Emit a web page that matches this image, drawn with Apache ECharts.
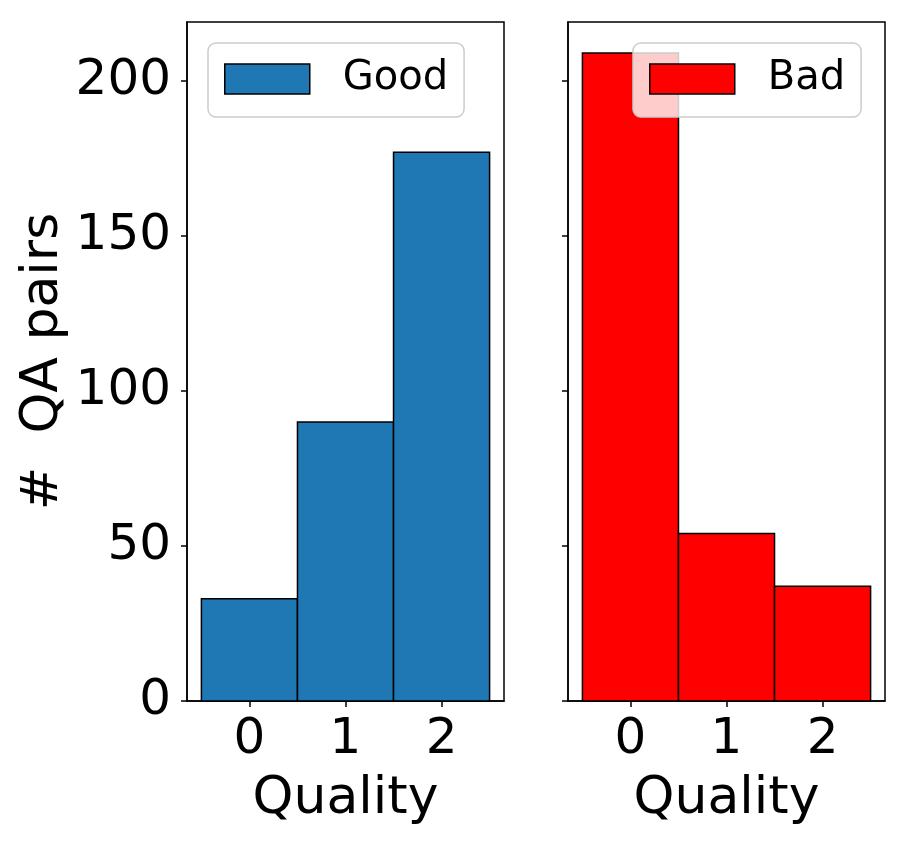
<!DOCTYPE html>
<html>
<head>
<meta charset="utf-8">
<script src="https://cdn.jsdelivr.net/npm/echarts@6/dist/echarts.min.js"></script>
<style>
  html, body {margin: 0; padding: 0; background: #fff;}
  #main {width: 908px; height: 841px;}
</style>
</head>
<body>
<div id="main"></div>
<script>
const qualities = [0, 1, 2];
const goodCounts = [33, 90, 177];
const badCounts = [209, 54, 37];
const yTicks = [0, 50, 100, 150, 200];

const font = 'DejaVu Sans';
const chart = echarts.init(document.getElementById('main'));

function histItem(params, api) {
  const x = api.value(0);
  const y = api.value(1);
  const p0 = api.coord([x - 0.5, y]);
  const p1 = api.coord([x + 0.5, 0]);
  return {
    type: 'rect',
    shape: {x: p0[0], y: p0[1], width: p1[0] - p0[0], height: p1[1] - p0[1]},
    style: api.style()
  };
}

function xAxis(gridIndex) {
  return {
    gridIndex, type: 'value', min: -0.65, max: 2.65,
    name: 'Quality', nameLocation: 'middle', nameGap: 72,
    nameTextStyle: {fontFamily: font, fontSize: 52, color: '#000'},
    axisLine: {show: true, onZero: false, lineStyle: {color: '#000', width: 1.5}},
    axisTick: {show: true, length: 6, lineStyle: {color: '#000', width: 1.5}, customValues: qualities},
    axisLabel: {fontFamily: font, fontSize: 50, color: '#000', margin: 14, customValues: qualities},
    splitLine: {show: false}
  };
}

function yAxis(gridIndex, showLabels) {
  return {
    gridIndex, type: 'value', min: 0, max: 219,
    name: showLabels ? '#  QA pairs' : '', nameLocation: 'middle', nameGap: 118,
    nameTextStyle: {fontFamily: font, fontSize: 52, color: '#000'},
    axisLine: {show: true, onZero: false, lineStyle: {color: '#000', width: 1.5}},
    axisTick: {show: true, length: 6, lineStyle: {color: '#000', width: 1.5}, customValues: yTicks},
    axisLabel: {show: showLabels, fontFamily: font, fontSize: 50, color: '#000', margin: 16, customValues: yTicks},
    splitLine: {show: false}
  };
}

function legend(name, color, left) {
  return {
    data: [{name, icon: 'rect', itemStyle: {color, borderColor: '#000', borderWidth: 1.5}}],
    left, top: 43,
    itemWidth: 85, itemHeight: 30,
    padding: [16, 16, 18, 16],
    backgroundColor: 'rgba(255,255,255,0.8)',
    borderColor: '#cccccc', borderWidth: 1.5, borderRadius: 8,
    selectedMode: false,
    textStyle: {fontFamily: font, fontSize: 40, color: '#000', padding: [0, 0, 0, 28]}
  };
}

chart.setOption({
  animation: false,
  backgroundColor: '#fff',
  grid: [
    {left: 187, top: 22, width: 317, height: 679, show: true, borderColor: '#000', borderWidth: 1.5},
    {left: 568, top: 22, width: 317, height: 679, show: true, borderColor: '#000', borderWidth: 1.5}
  ],
  xAxis: [xAxis(0), xAxis(1)],
  yAxis: [yAxis(0, true), yAxis(1, false)],
  legend: [legend('Good', '#1f77b4', 208), legend('Bad', '#ff0000', 633)],
  series: [
    {
      name: 'Good', type: 'custom', xAxisIndex: 0, yAxisIndex: 0,
      renderItem: histItem,
      itemStyle: {color: '#1f77b4', borderColor: '#000', borderWidth: 1.5},
      data: qualities.map((q, i) => [q, goodCounts[i]])
    },
    {
      name: 'Bad', type: 'custom', xAxisIndex: 1, yAxisIndex: 1,
      renderItem: histItem,
      itemStyle: {color: '#ff0000', borderColor: '#000', borderWidth: 1.5},
      data: qualities.map((q, i) => [q, badCounts[i]])
    }
  ]
});
</script>
</body>
</html>
